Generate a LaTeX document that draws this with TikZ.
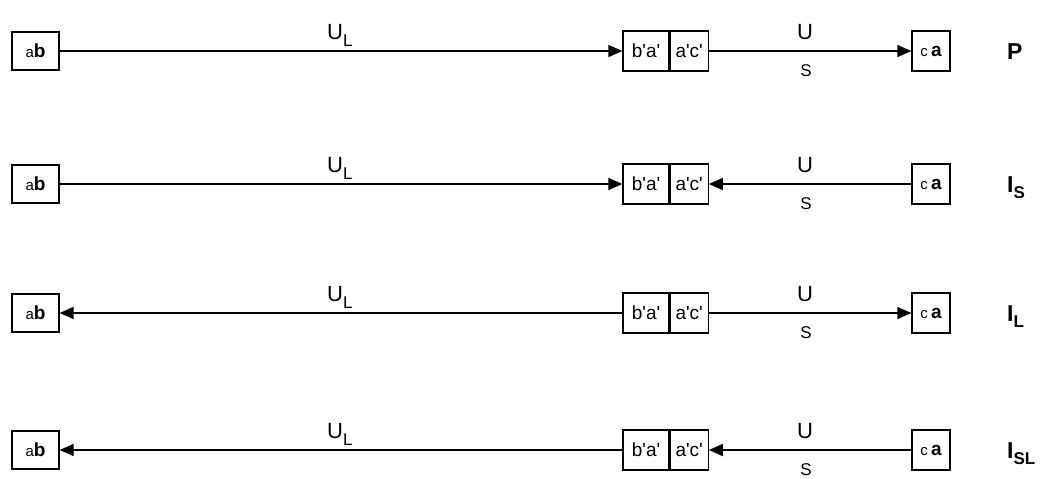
\documentclass[tikz,border=0pt]{standalone}
\usepackage{fontspec}
\setmainfont{Liberation Sans}
\usetikzlibrary{arrows.meta}
\newcommand\fsz[1]{\fontsize{#1}{#1}\selectfont}
\newcommand\pr{\textquotesingle}
\tikzset{
  cell/.style={draw, line width=1.2pt, inner sep=0pt, fill=white,
    minimum height=40pt, font=\fsz{19}},
  endbox/.style={cell, minimum width=47pt, minimum height=38pt},
  rightbox/.style={cell, minimum width=38pt},
  leftcell/.style={cell, minimum width=46pt},
  rightcell/.style={cell, minimum width=38pt},
  link/.style={line width=1.4pt},
  fwd/.style={link, -{Triangle[length=14pt,width=12pt]}},
  bwd/.style={link, {Triangle[length=14pt,width=12pt]}-},
  lbl/.style={inner sep=0pt, font=\fsz{22}},
  tag/.style={inner sep=0pt, font=\bfseries\fsz{23}, anchor=base west}
}
\begin{document}
\begin{tikzpicture}[x=1pt, y=-1pt]
  \useasboundingbox (0,0) rectangle (1041,479);
  \foreach \r/\y/\lft/\rgt/\tg in {
      1/51/fwd/fwd/{P},
      2/184/fwd/bwd/{I\raisebox{-6pt}{\fsz{17}S}},
      3/313/bwd/fwd/{I\raisebox{-6pt}{\fsz{17}L}},
      4/450/bwd/bwd/{I\raisebox{-6pt}{\fsz{17}SL}}} {
    % end boxes and the two-cell middle box
    \node[endbox]   (ab\r) at (35.5,\y) {{\fsz{15}a}{\bfseries b}};
    \node[leftcell] (ba\r) at (646,\y) {b\pr a\pr};
    \node[rightcell, anchor=west] (ac\r) at (ba\r.east) {a\pr c\pr};
    \node[rightbox] (ca\r) at (931,\y) {{\fsz{15}c}\,{\bfseries a}};
    % connectors
    \draw[\lft] (ab\r) -- (ba\r);
    \draw[\rgt] (ac\r) -- (ca\r);
    % labels
    \node[lbl, anchor=base west] (ul\r) at (327,\y-12) {U\raisebox{-7pt}{\fsz{17}L}};
    \node[lbl, anchor=base] (us\r) at (805,\y-12) {U};
    \node[lbl, anchor=base, font=\fsz{17}] (s\r) at (806,\y+25) {S};
    \node[tag] (t\r) at (1007,\y+8) {\tg};
  }
\end{tikzpicture}
\end{document}
